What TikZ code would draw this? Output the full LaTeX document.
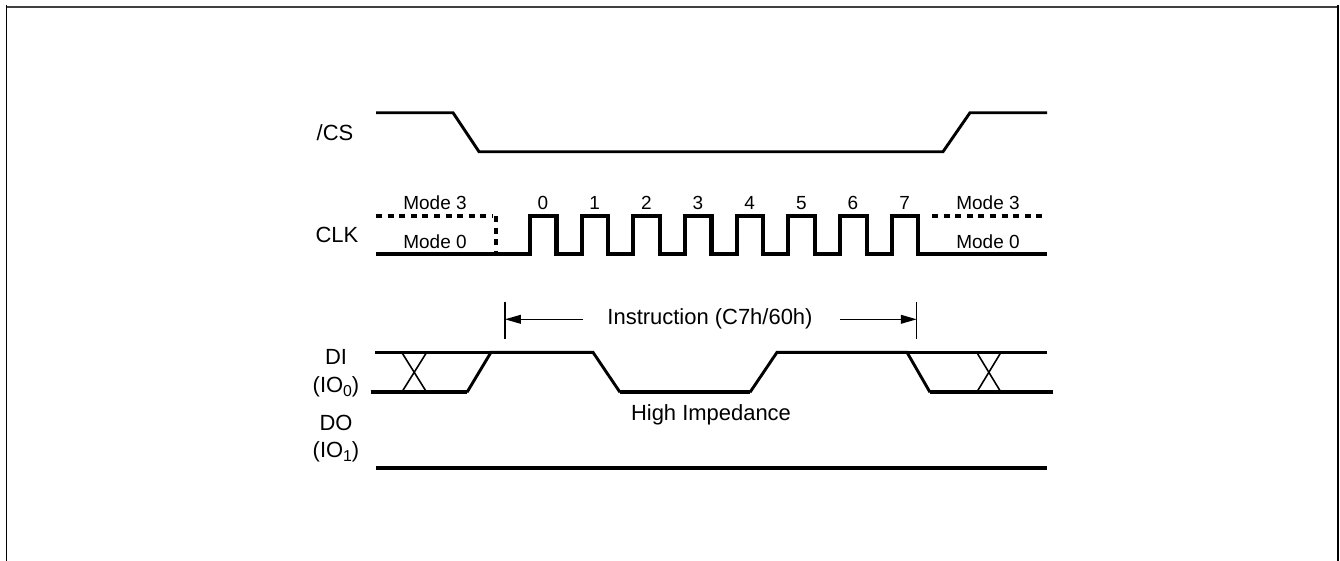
\documentclass[tikz,border=0pt]{standalone}
\usepackage{fontspec}
\setmainfont{Liberation Sans}
\usetikzlibrary{arrows.meta}
\begin{document}
\begin{tikzpicture}[x={(0.02cm,0)},y={(0,-0.02cm)},
  sig/.style={line width=1.65pt,line join=miter},
  clk/.style={line width=2.3pt,line join=miter},
  lowbar/.style={line width=2.3pt},
  hibar/.style={line width=1.6pt},
  thin/.style={line width=0.9pt},
  dashsig/.style={line width=2.3pt,dash pattern=on 3.4pt off 3.2pt},
  dashv/.style={line width=2pt,dash pattern=on 3.4pt off 3.2pt},
  lab/.style={font=\fontsize{12.5}{14}\selectfont,inner sep=0pt},
  small/.style={font=\fontsize{10.8}{12}\selectfont,inner sep=0pt},
  frame/.style={line width=1pt},
  dim/.style={line width=0.7pt},
  tip/.style={-{Triangle[length=9pt,width=5pt]}}]
\useasboundingbox (0,0) rectangle (1340,561);
% frame
\draw[frame,draw=black!75] (6.5,7) -- (1338,7);
\draw[frame] (6.5,5) -- (6.5,561);
\draw[frame] (1338,5) -- (1338,561);
% labels
\node[lab] (cs) at (335,133) {/CS};
\node[lab] (clk) at (337,235) {CLK};
\node[lab] (di) at (336,357) {DI};
\node[lab] (io0) at (336,387) {(IO\raisebox{-0.35ex}{\fontsize{9}{10}\selectfont 0})};
\node[lab] (do) at (336,423) {DO};
\node[lab] (io1) at (336,452) {(IO\raisebox{-0.35ex}{\fontsize{9}{10}\selectfont 1})};
\node[small] (m3l) at (435,203) {Mode 3};
\node[small] (m0l) at (435,242) {Mode 0};
\node[small] (m3r) at (988,203) {Mode 3};
\node[small] (m0r) at (988,242) {Mode 0};
\foreach \k in {0,...,7}{
  \node[small] (d\k) at (543+51.67*\k,203) {\k};
}
\node[lab] (instr) at (710,319) {Instruction (C7h/60h)};
\node[lab] (hiz) at (711,415) {High Impedance};
% /CS
\draw[sig] (376,112.7) -- (453,112.7) -- (479,151.7) -- (943,151.7) -- (970,112.7) -- (1047,112.7);
% CLK
\draw[clk] (376,254) -- (530,254)
  \foreach \k in {0,...,7}{ -- (530+51.67*\k,254) -- (530+51.67*\k,216) -- (556.5+51.67*\k,216) -- (556.5+51.67*\k,254)}
  -- (1047,254);
\draw[dashsig] (376,216) -- (493,216);
\draw[dashv] (496,216) -- (496,254);
\draw[dashsig] (932,216) -- (1047,216);
% instruction dimension
\coordinate (t1a) at (505,301.7);
\coordinate (t1b) at (505,339.3);
\coordinate (t2a) at (916.7,301.7);
\coordinate (t2b) at (916.7,339.3);
\coordinate (a1) at (505,319.3);
\coordinate (a2) at (916.7,319.3);
\coordinate (s1) at (583,319.3);
\coordinate (s2) at (840,319.3);
\draw[dim] (t1a) -- (t1b);
\draw[dim] (t2a) -- (t2b);
\draw[dim,tip] (s1) -- (a1);
\draw[dim,tip] (s2) -- (a2);
% DI
\draw[hibar] (375,352.3) -- (491,352.3);
\draw[lowbar] (370.7,392.3) -- (467,392.3);
\draw[sig] (467,392.3) -- (491,352.3) -- (593,352.3) -- (620,392.3);
\draw[lowbar] (620,392.3) -- (750,392.3);
\draw[sig] (750,392.3) -- (777,352.3) -- (907,352.3) -- (930,392.3);
\draw[hibar] (907,352.3) -- (1047,352.3);
\draw[lowbar] (930,392.3) -- (1053,392.3);
\draw[thin] (401.7,392.3) -- (426.7,352.3);
\draw[thin] (401.7,352.3) -- (426.7,392.3);
\draw[thin] (976.7,352.3) -- (1001,392.3);
\draw[thin] (976.7,392.3) -- (1001,352.3);
% DO
\draw[lowbar] (376,468.3) -- (1047,468.3);
\end{tikzpicture}
\end{document}
